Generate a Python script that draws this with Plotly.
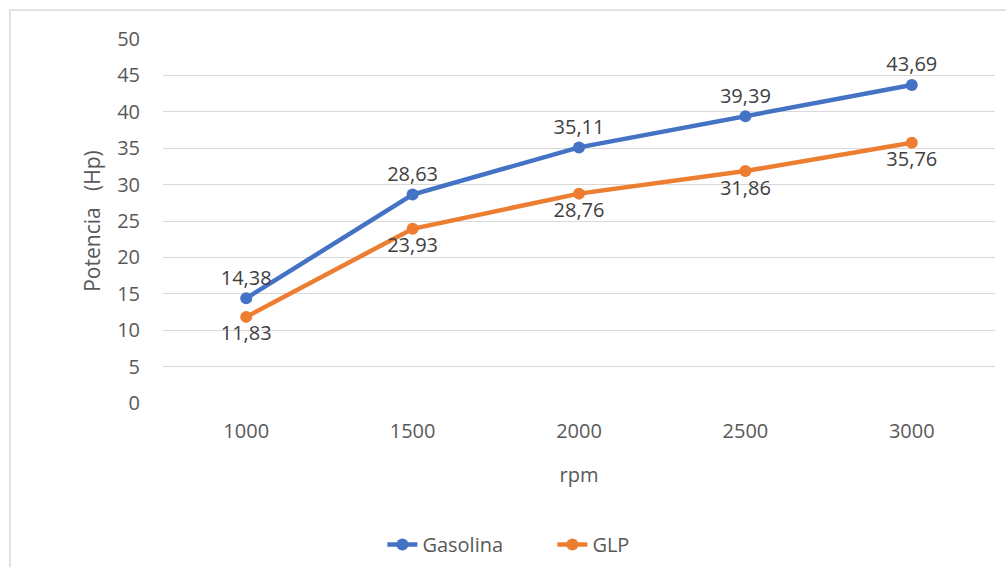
import plotly.graph_objects as go

rpm = ["1000", "1500", "2000", "2500", "3000"]
gasolina = [14.38, 28.63, 35.11, 39.39, 43.69]
glp = [11.83, 23.93, 28.76, 31.86, 35.76]
y_ticks = [0, 5, 10, 15, 20, 25, 30, 35, 40, 45, 50]

BLUE = "#4472C4"
ORANGE = "#ED7D31"
GRID = "#D9D9D9"
TEXT = "#595959"
LABEL = "#404040"
FONT = "Open Sans, Liberation Sans, sans-serif"


def fmt(v):
    return f"{v:.2f}".replace(".", ",")


fig = go.Figure()
fig.add_trace(go.Scatter(
    x=rpm, y=gasolina, name="Gasolina", mode="lines+markers+text",
    line=dict(color=BLUE, width=4.5), marker=dict(color=BLUE, size=12),
    text=[fmt(v) for v in gasolina], textposition="top center",
    textfont=dict(size=20, color=LABEL, family=FONT),
))
fig.add_trace(go.Scatter(
    x=rpm, y=glp, name="GLP", mode="lines+markers+text",
    line=dict(color=ORANGE, width=4.5), marker=dict(color=ORANGE, size=12),
    text=[fmt(v) for v in glp], textposition="bottom center",
    textfont=dict(size=20, color=LABEL, family=FONT),
))

# light frame around the chart area
fig.add_shape(type="rect", xref="paper", yref="paper",
              x0=-0.184, x1=1.2, y0=-0.8, y1=1.08,
              line=dict(color=GRID, width=1.5), layer="below")

fig.update_layout(
    width=1006, height=567,
    margin=dict(l=163, r=11, t=39, b=164, autoexpand=False),
    paper_bgcolor="white", plot_bgcolor="white",
    font=dict(family=FONT, color=TEXT, size=20),
    hovermode=False,
    showlegend=True,
    legend=dict(orientation="h", x=0.468, xanchor="center", y=-0.389, yanchor="middle",
                font=dict(size=20, color=TEXT), tracegroupgap=0,
                entrywidth=125, entrywidthmode="pixels"),
    xaxis=dict(type="category", range=[-0.5, 4.5], showgrid=False, showline=False,
               zeroline=False, ticks="", ticklabelstandoff=14, automargin=False,
               tickfont=dict(size=20, color=TEXT),
               title=dict(text="rpm", font=dict(size=20, color=TEXT), standoff=24)),
    yaxis=dict(range=[0, 50], tickvals=y_ticks, showgrid=True, gridcolor=GRID,
               gridwidth=1, zeroline=False, showline=False, ticks="", automargin=False,
               ticklabelstandoff=22, tickfont=dict(size=20, color=TEXT),
               title=dict(text="Potencia\u00a0\u00a0\u00a0(Hp)",
                          font=dict(size=21, color=TEXT), standoff=10)),
)

fig.write_html("out.html")
